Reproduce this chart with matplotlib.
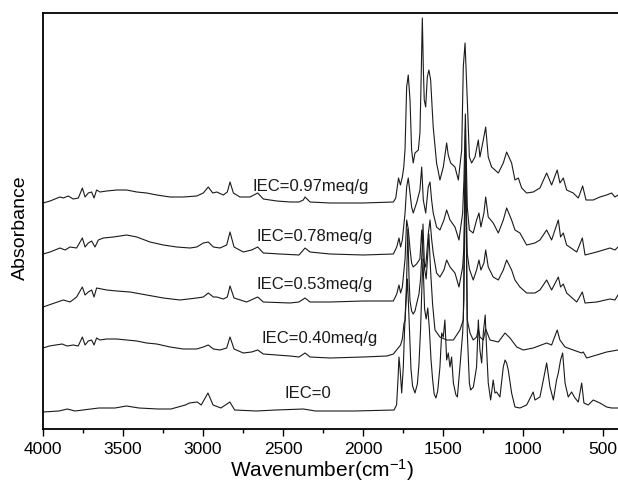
import matplotlib
matplotlib.use('Agg')
import matplotlib.pyplot as plt
from matplotlib.ticker import MultipleLocator

plt.rcParams['font.family'] = ['Liberation Sans', 'DejaVu Sans']
plt.rcParams['mathtext.default'] = 'regular'

# FTIR spectra (wavenumber, absorbance in arb. units, already offset)
wn_097 = [4000, 3956, 3925, 3894, 3873, 3842, 3811, 3779, 3754, 3737, 3717, 3696, 3681, 3665, 3644, 3602,
          3539, 3477, 3414, 3352, 3289, 3206, 3123, 3039, 2998, 2967, 2939, 2914, 2873, 2848, 2831, 2810,
          2769, 2706, 2658, 2623, 2539, 2456, 2400, 2373, 2362, 2331, 2206, 2000, 1810, 1795, 1778, 1766,
          1754, 1745, 1737, 1727, 1717, 1706, 1696, 1686, 1675, 1654, 1644, 1637, 1629, 1623, 1617, 1608,
          1598, 1588, 1577, 1567, 1561, 1540, 1519, 1498, 1477, 1467, 1452, 1425, 1404, 1383, 1373, 1362,
          1348, 1335, 1321, 1300, 1279, 1269, 1248, 1233, 1217, 1196, 1175, 1154, 1123, 1102, 1071, 1050,
          1029, 1008, 977, 936, 894, 852, 821, 786, 769, 748, 727, 686, 654, 627, 606, 561, 519, 477, 446,
          425, 406]
ab_097 = [226, 228, 230, 232, 231, 233, 230, 231, 241, 232, 236, 237, 231, 239, 237, 238,
          239, 239, 237, 236, 234, 232, 232, 233, 236, 242, 236, 237, 234, 237, 247, 236,
          232, 232, 236, 230, 228, 227, 227, 229, 232, 227, 226, 226, 227, 231, 251, 244,
          252, 262, 280, 342, 354, 329, 279, 266, 276, 279, 296, 346, 411, 362, 329, 322,
          352, 359, 349, 319, 302, 266, 249, 262, 286, 274, 266, 262, 249, 279, 362, 386,
          329, 272, 266, 272, 289, 272, 289, 302, 272, 262, 259, 256, 266, 277, 266, 249,
          251, 241, 236, 237, 241, 256, 244, 259, 246, 251, 239, 236, 231, 243, 229, 229, 232, 234, 236,
          232, 234]

wn_078 = [4000, 3956, 3894, 3862, 3831, 3790, 3754, 3737, 3717, 3696, 3675, 3654, 3623, 3560, 3477, 3414,
          3331, 3248, 3165, 3081, 3039, 2998, 2967, 2935, 2894, 2852, 2831, 2806, 2748, 2696, 2658, 2623,
          2519, 2400, 2362, 2331, 2206, 1998, 1810, 1789, 1775, 1765, 1754, 1737, 1727, 1717, 1706, 1696,
          1686, 1665, 1644, 1633, 1623, 1608, 1592, 1581, 1571, 1561, 1540, 1519, 1494, 1477, 1456, 1425,
          1400, 1377, 1369, 1360, 1348, 1335, 1311, 1290, 1275, 1263, 1244, 1233, 1217, 1186, 1154, 1123,
          1102, 1071, 1050, 1019, 977, 925, 894, 852, 821, 779, 765, 748, 727, 664, 629, 612, 539, 456,
          425, 406]
ab_078 = [175, 177, 181, 179, 182, 181, 191, 182, 186, 188, 182, 189, 191, 192, 194, 192,
          187, 184, 182, 181, 182, 186, 187, 182, 181, 184, 197, 182, 177, 179, 182, 176,
          175, 174, 181, 177, 175, 174, 175, 182, 191, 182, 189, 216, 242, 251, 236, 222,
          216, 226, 239, 262, 229, 216, 242, 247, 229, 216, 202, 199, 209, 219, 209, 202,
          189, 216, 249, 315, 222, 199, 196, 209, 216, 202, 216, 232, 212, 206, 196, 209,
          221, 209, 199, 196, 184, 186, 189, 199, 189, 209, 192, 196, 184, 177, 191, 174, 177, 181,
          179, 182]

wn_053 = [4000, 3873, 3831, 3790, 3754, 3737, 3717, 3696, 3681, 3665, 3602, 3539, 3456, 3352, 3248, 3144,
          3039, 2998, 2967, 2935, 2914, 2873, 2848, 2831, 2806, 2727, 2658, 2623, 2456, 2400, 2362, 2331,
          2206, 1998, 1810, 1789, 1775, 1765, 1754, 1737, 1727, 1717, 1706, 1696, 1686, 1665, 1644, 1633,
          1623, 1608, 1592, 1581, 1571, 1561, 1540, 1519, 1494, 1477, 1456, 1425, 1400, 1377, 1369, 1360,
          1348, 1335, 1311, 1290, 1275, 1263, 1244, 1233, 1217, 1186, 1154, 1123, 1102, 1071, 1050, 1019,
          977, 925, 894, 852, 821, 779, 765, 748, 727, 664, 629, 612, 539, 456, 425, 406]
ab_053 = [122, 129, 127, 132, 142, 134, 137, 139, 132, 141, 139, 138, 137, 134, 131, 129,
          131, 132, 136, 132, 132, 130, 132, 143, 131, 127, 132, 127, 126, 127, 131, 127,
          127, 128, 128, 135, 144, 136, 142, 170, 209, 200, 180, 166, 162, 165, 170, 199,
          169, 162, 195, 209, 190, 176, 156, 152, 159, 169, 162, 156, 142, 162, 182, 270,
          175, 160, 149, 159, 169, 159, 166, 179, 162, 152, 149, 159, 169, 159, 149, 142,
          136, 136, 139, 149, 139, 152, 142, 145, 136, 127, 137, 126, 127, 130, 129, 134]

wn_040 = [4000, 3960, 3920, 3880, 3850, 3810, 3780, 3754, 3737, 3717, 3696, 3681, 3665, 3644, 3602, 3540,
          3477, 3414, 3352, 3289, 3206, 3123, 3039, 2998, 2967, 2935, 2894, 2852, 2831, 2806, 2748, 2696,
          2658, 2623, 2540, 2456, 2400, 2362, 2331, 2206, 1998, 1850, 1810, 1790, 1775, 1765, 1754, 1744,
          1737, 1727, 1720, 1712, 1706, 1696, 1686, 1675, 1665, 1650, 1640, 1630, 1625, 1615, 1605, 1595,
          1588, 1578, 1565, 1550, 1519, 1477, 1435, 1394, 1373, 1360, 1348, 1331, 1311, 1290, 1279, 1269,
          1248, 1233, 1206, 1154, 1112, 1081, 1039, 998, 936, 852, 821, 786, 769, 737, 686, 633, 623, 602,
          539, 477, 406]
ab_040 = [81, 83, 84, 85, 83, 84, 83, 92, 84, 88, 89, 84, 91, 89, 90, 90,
          89, 88, 86, 85, 82, 80, 80, 82, 84, 80, 79, 81, 92, 80, 76, 77,
          79, 75, 74, 73, 72, 76, 72, 71, 72, 73, 75, 79, 82, 84, 90, 105,
          109, 150, 200, 150, 128, 118, 115, 118, 125, 135, 150, 180, 205, 160, 150, 175,
          195, 160, 125, 99, 92, 89, 89, 99, 109, 280, 109, 96, 89, 92, 100, 92,
          89, 100, 89, 87, 96, 91, 82, 79, 81, 86, 84, 99, 89, 82, 79, 76, 77, 71,
          74, 77, 79]

wn_000 = [4000, 3900, 3848, 3800, 3750, 3651, 3550, 3479, 3400, 3282, 3200, 3110, 3085, 3036, 3011, 2969,
          2937, 2888, 2832, 2802, 2667, 2544, 2372, 2297, 2052, 1806, 1790, 1781, 1775, 1768, 1758, 1748,
          1740, 1730, 1722, 1712, 1700, 1690, 1675, 1660, 1650, 1640, 1630, 1625, 1615, 1605, 1595, 1585,
          1575, 1565, 1555, 1544, 1533, 1519, 1508, 1498, 1488, 1477, 1467, 1456, 1446, 1435, 1419, 1410,
          1394, 1377, 1369, 1360, 1348, 1335, 1327, 1310, 1290, 1279, 1269, 1258, 1248, 1236, 1227, 1217,
          1202, 1186, 1175, 1165, 1144, 1123, 1112, 1102, 1092, 1071, 1050, 1019, 977, 936, 925, 894,
          869, 852, 831, 810, 790, 779, 765, 752, 737, 717, 696, 675, 654, 633, 619, 592, 561, 519,
          477, 446, 406]
ab_000 = [17, 18, 20, 18, 19, 21, 21, 23, 21, 20, 20, 24, 26, 27, 24, 36,
          24, 21, 27, 19, 18, 19, 20, 18, 18, 19, 24, 50, 72, 60, 36, 62,
          100, 130, 150, 110, 60, 43, 36, 45, 65, 100, 150, 170, 120, 110, 121, 100,
          70, 50, 35, 31, 38, 62, 96, 92, 109, 69, 76, 62, 72, 46, 34, 32,
          62, 96, 129, 300, 96, 46, 39, 42, 62, 109, 79, 66, 96, 114, 79, 46,
          29, 49, 36, 37, 32, 62, 69, 66, 59, 36, 22, 21, 24, 37, 29, 32,
          52, 66, 42, 29, 49, 56, 69, 76, 46, 32, 37, 31, 27, 46, 26, 24, 29, 26,
          22, 21, 21]

labels = ['IEC=0.97meq/g', 'IEC=0.78meq/g', 'IEC=0.53meq/g', 'IEC=0.40meq/g', 'IEC=0']
label_wn = [2325, 2300, 2300, 2269, 2344]
label_ab = [243, 192, 144, 91, 35]

fig = plt.figure(figsize=(6.18, 4.83), dpi=100)
ax = fig.add_axes([43 / 618, 54 / 483, 575 / 618, 416 / 483])

for x, y in [(wn_097, ab_097), (wn_078, ab_078), (wn_053, ab_053), (wn_040, ab_040), (wn_000, ab_000)]:
    ax.plot(x, y, color='#1a1a1a', lw=0.8)

for t, x, y in zip(labels, label_wn, label_ab):
    ax.text(x, y, t, fontsize=12, ha='center', va='center', color='#1a1a1a')

ax.set_xlim(4000, 406)
ax.set_ylim(0, 416)
ax.xaxis.set_major_locator(MultipleLocator(500))
ax.xaxis.set_minor_locator(MultipleLocator(250))
ax.set_yticks([])
ax.tick_params(axis='x', which='major', direction='out', length=5, width=1, labelsize=12.5, pad=4)
ax.tick_params(axis='x', which='minor', direction='out', length=3, width=1)
for s in ['left', 'bottom', 'top']:
    ax.spines[s].set_linewidth(1.3)
ax.spines['right'].set_visible(False)

ax.set_xlabel('Wavenumber(cm$^{-1}$)', fontsize=15)
ax.set_ylabel('Absorbance', fontsize=14)
ax.xaxis.set_label_coords(0.485, -0.068)
ax.yaxis.set_label_coords(-0.024, 0.483)

fig.savefig('out.png', dpi=100)
